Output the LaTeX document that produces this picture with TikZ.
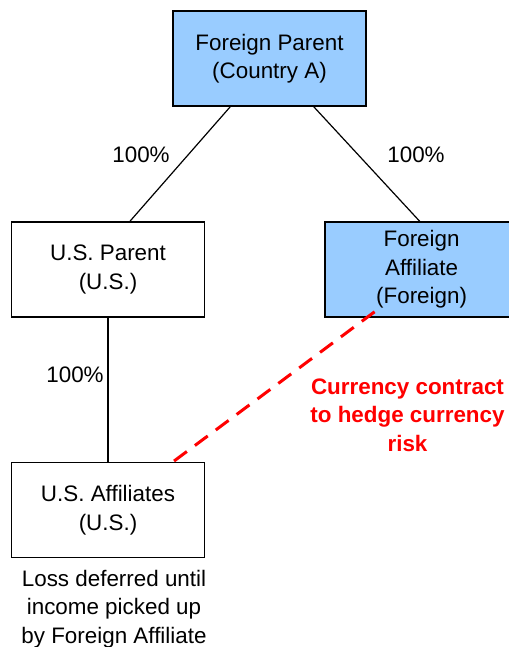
\documentclass[tikz,border=0pt]{standalone}
\usepackage{fontspec}
\setmainfont{Liberation Sans}
\usetikzlibrary{positioning}
\definecolor{boxblue}{HTML}{99CCFF}

\begin{document}
\begin{tikzpicture}[x=1pt,y=-1pt,font=\fontsize{22.4}{28.5}\selectfont,
  entity/.style={rectangle,draw,line width=1.6pt,minimum width=193pt,minimum height=95pt,align=center,inner sep=0pt},
  foreign entity/.style={entity,fill=boxblue},
  share/.style={line width=1.2pt},
  hedge/.style={draw=red,line width=3pt,dash pattern=on 16pt off 10pt}]
  \useasboundingbox (0,0) rectangle (508,647);

  \node[foreign entity] (fp) at (269.5,58.5) {Foreign Parent\\(Country A)};
  \node[entity] (usp) at (108,269.5) {U.S. Parent\\(U.S.)};
  \node[foreign entity] (fa) [right=119pt of usp] {Foreign\\Affiliate\\(Foreign)};
  \node[entity] (usa) [below=144pt of usp] {U.S. Affiliates\\(U.S.)};

  \node (p1) at (141,155) {100\%};
  \node (p2) at (416,155) {100\%};
  \node (p3) at (75,375) {100\%};
  \node[text=red,font=\fontsize{22.4}{28.5}\selectfont\bfseries,align=center] (hedgetxt) at (407.5,415) {Currency contract\\to hedge currency\\risk};
  \node[align=center] (note) at (114,609) {Loss deferred until\\income picked up\\by Foreign Affiliate};

  \draw[share] ([xshift=58pt]fp.south west) -- ([xshift=22pt]usp.north);
  \draw[share] ([xshift=-53pt]fp.south east) -- ([xshift=-2pt]fa.north);
  \draw[share] (usp.south) -- (usa.north);
  \draw[hedge] ([xshift=-47pt,yshift=6pt]fa.south) -- ([xshift=65pt]usa.north);
\end{tikzpicture}
\end{document}
